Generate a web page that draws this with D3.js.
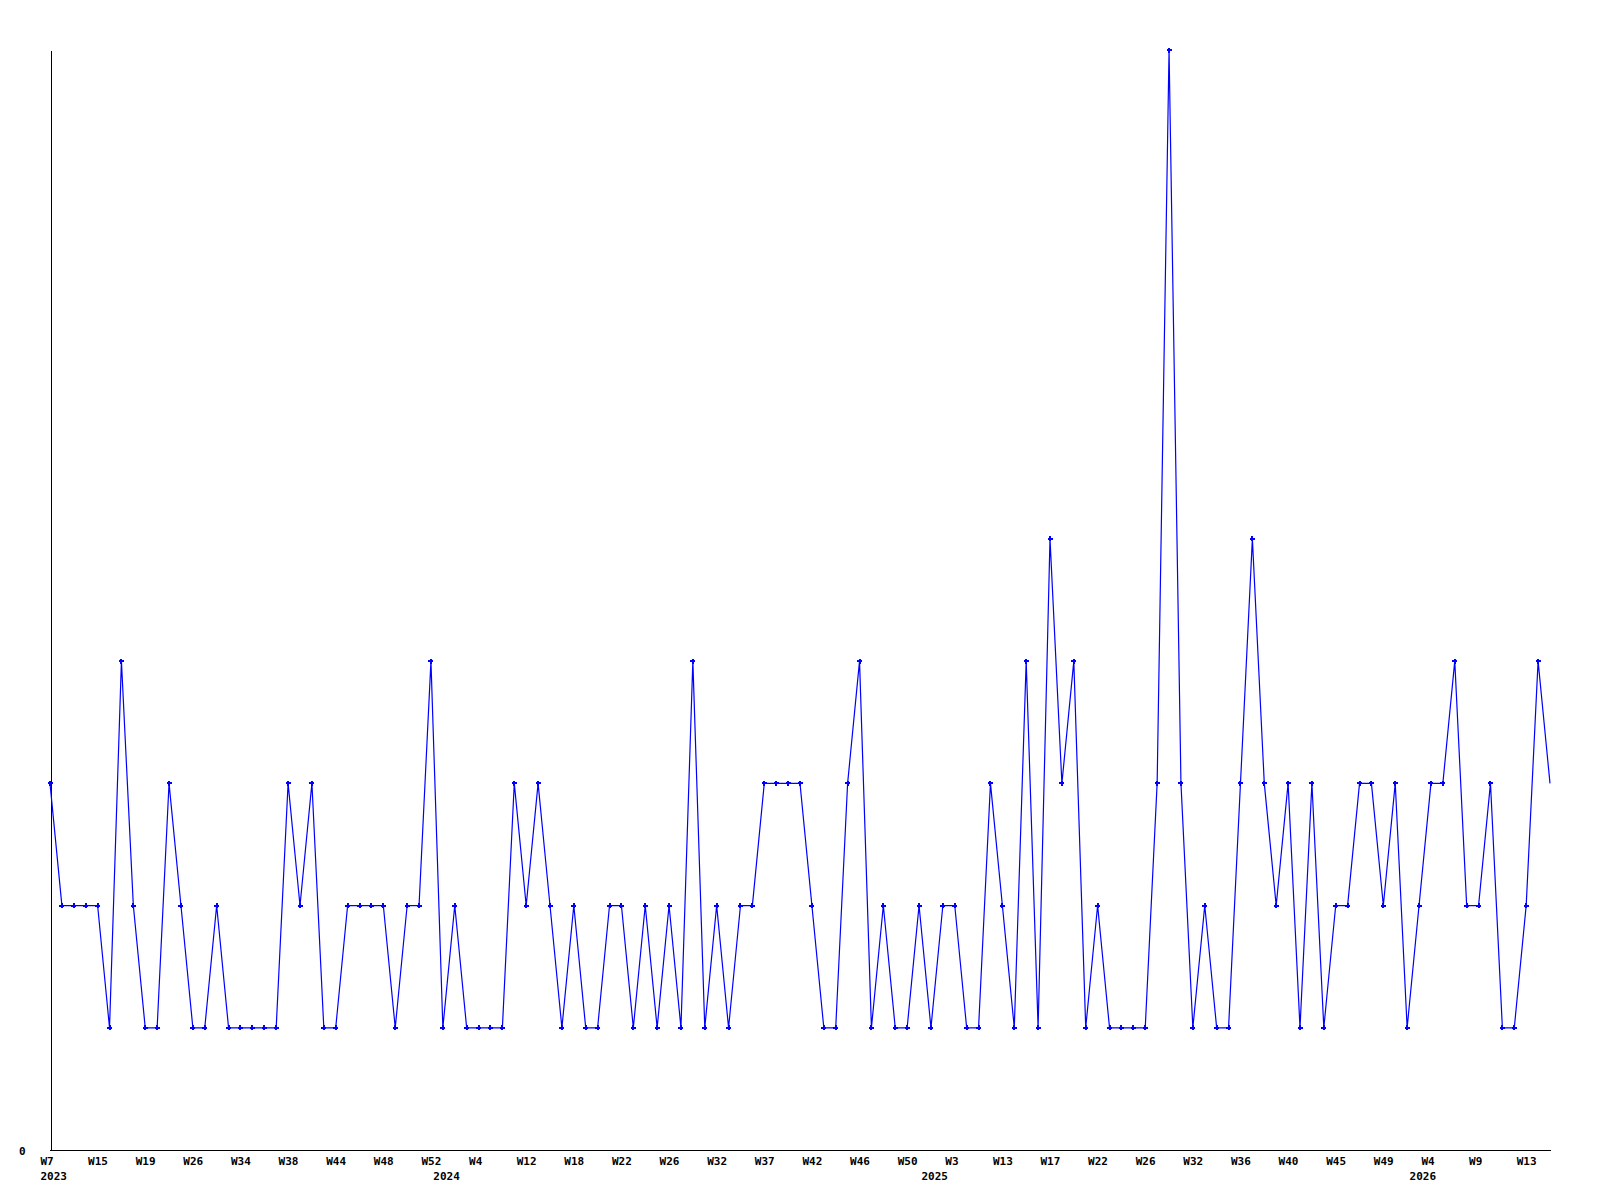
<!DOCTYPE html>
<html>
<head>
<meta charset="utf-8">
<script src="https://cdn.jsdelivr.net/npm/d3@7"></script>
<style>
  body { margin: 0; background: #fff; }
  svg { display: block; }
  .lbl text { font-family: "DejaVu Sans Mono", monospace; font-weight: bold; font-size: 11px; fill: #000; }
</style>
</head>
<body>
<svg width="1600" height="1200"></svg>
<script>
// weeks that have data, per ISO year
const weeks2023 = [7, 9, 11, 13, 15, 16, 17, 18, 19, 21, 23, 24, 26, 28, 30, 32, 34, 35, 36, 37, 38, 39, 41, 43, 44, 45, 46, 47, 48, 49, 50, 51, 52];
const weeks2024 = [1, 2, 3, 4, 6, 8, 10, 12, 14, 15, 17, 18, 19, 20, 21, 22, 23, 24, 25, 26, 27, 29, 31, 32, 33, 34, 36, 37, 38, 39, 41, 42, 43, 44, 45, 46, 47, 48, 49, 50, 51];
const weeks2025 = [1, 2, 3, 5, 8, 11, 13, 14, 15, 16, 17, 18, 20, 21, 22, 23, 24, 25, 26, 28, 29, 31, 32, 33, 34, 35, 36, 37, 38, 39, 40, 41, 42, 44, 45, 46, 47, 48, 49, 50, 51];
const weeks2026 = [1, 4, 5, 6, 8, 9, 10, 11, 12, 13, 14, 15];

// weekly counts, one per week above
const counts = [
  3, 2, 2, 2, 2, 1, 4, 2, 1, 1, 3, 2, 1, 1, 2, 1, 1, 1, 1, 1, 3, 2, 3, 1, 1, 2, 2, 2, 2, 1, 2, 2, 4,
  1, 2, 1, 1, 1, 1, 3, 2, 3, 2, 1, 2, 1, 1, 2, 2, 1, 2, 1, 2, 1, 4, 1, 2, 1, 2, 2, 3, 3, 3, 3, 2, 1, 1, 3, 4, 1, 2, 1, 1, 2,
  1, 2, 2, 1, 1, 3, 2, 1, 4, 1, 5, 3, 4, 1, 2, 1, 1, 1, 1, 3, 9, 3, 1, 2, 1, 1, 3, 5, 3, 2, 3, 1, 3, 1, 2, 2, 3, 3, 2, 3, 1,
  2, 3, 3, 4, 2, 2, 3, 1, 1, 2, 4, 3
];
const yTicks = [0];
const LABEL_EVERY = 4;

const periods = [
  ...weeks2023.map(w => ({ year: 2023, week: w })),
  ...weeks2024.map(w => ({ year: 2024, week: w })),
  ...weeks2025.map(w => ({ year: 2025, week: w })),
  ...weeks2026.map(w => ({ year: 2026, week: w }))
];
periods.forEach((p, i) => { p.key = `${p.year}-W${p.week}`; p.value = counts[i]; });

const svg = d3.select("svg");
const x = d3.scalePoint().domain(periods.map(p => p.key)).range([50, 1550]);
const y = d3.scaleLinear().domain([0, 9]).range([1150, 50]);

// x axis: week labels every 4th point, year label under the first week of each year
const weekTicks = periods.filter((p, i) => i % LABEL_EVERY === 0).map(p => p.key);
const yearStarts = periods.filter((p, i) => i === 0 || periods[i - 1].year !== p.year);
const byKey = new Map(periods.map(p => [p.key, p]));

const xAxis = svg.append("g")
  .attr("class", "lbl")
  .attr("transform", "translate(0,1150)")
  .attr("shape-rendering", "crispEdges")
  .call(d3.axisBottom(x).tickValues(weekTicks).tickSize(0).tickSizeOuter(0)
    .tickFormat(k => "W" + byKey.get(k).week));
xAxis.select(".domain").attr("d", "M50,0.5H1551").attr("stroke", "#000");
xAxis.selectAll("text").attr("text-anchor", "start").attr("x", -10).attr("y", 15).attr("dy", 0);

const yearAxis = svg.append("g")
  .attr("class", "lbl")
  .attr("transform", "translate(0,1150)")
  .call(d3.axisBottom(x).tickValues(yearStarts.map(p => p.key)).tickSize(0)
    .tickFormat(k => byKey.get(k).year));
yearAxis.select(".domain").remove();
yearAxis.selectAll("text").attr("text-anchor", "start").attr("x", -10).attr("y", 30).attr("dy", 0);

// y axis: only the zero label
const yAxis = svg.append("g")
  .attr("class", "lbl")
  .attr("transform", "translate(50.5,0)")
  .attr("shape-rendering", "crispEdges")
  .call(d3.axisLeft(y).tickValues(yTicks).tickSize(0).tickSizeOuter(0).tickPadding(25));
yAxis.select(".domain").attr("stroke", "#000");
yAxis.selectAll("text").attr("dy", 4);

// the series
const line = d3.line().x(p => x(p.key)).y(p => y(p.value));
svg.append("path")
  .datum(periods)
  .attr("d", line)
  .attr("fill", "none")
  .attr("stroke", "#0000ff")
  .attr("stroke-width", 1.2);

svg.append("g")
  .selectAll("path")
  .data(periods.slice(0, -1))
  .join("path")
  .attr("transform", p => `translate(${x(p.key)},${y(p.value)})`)
  .attr("d", "M-2.5,0H2.5M0,-2.5V2.5")
  .attr("stroke", "#0000ff")
  .attr("stroke-width", 2)
  .attr("shape-rendering", "crispEdges");
</script>
</body>
</html>
